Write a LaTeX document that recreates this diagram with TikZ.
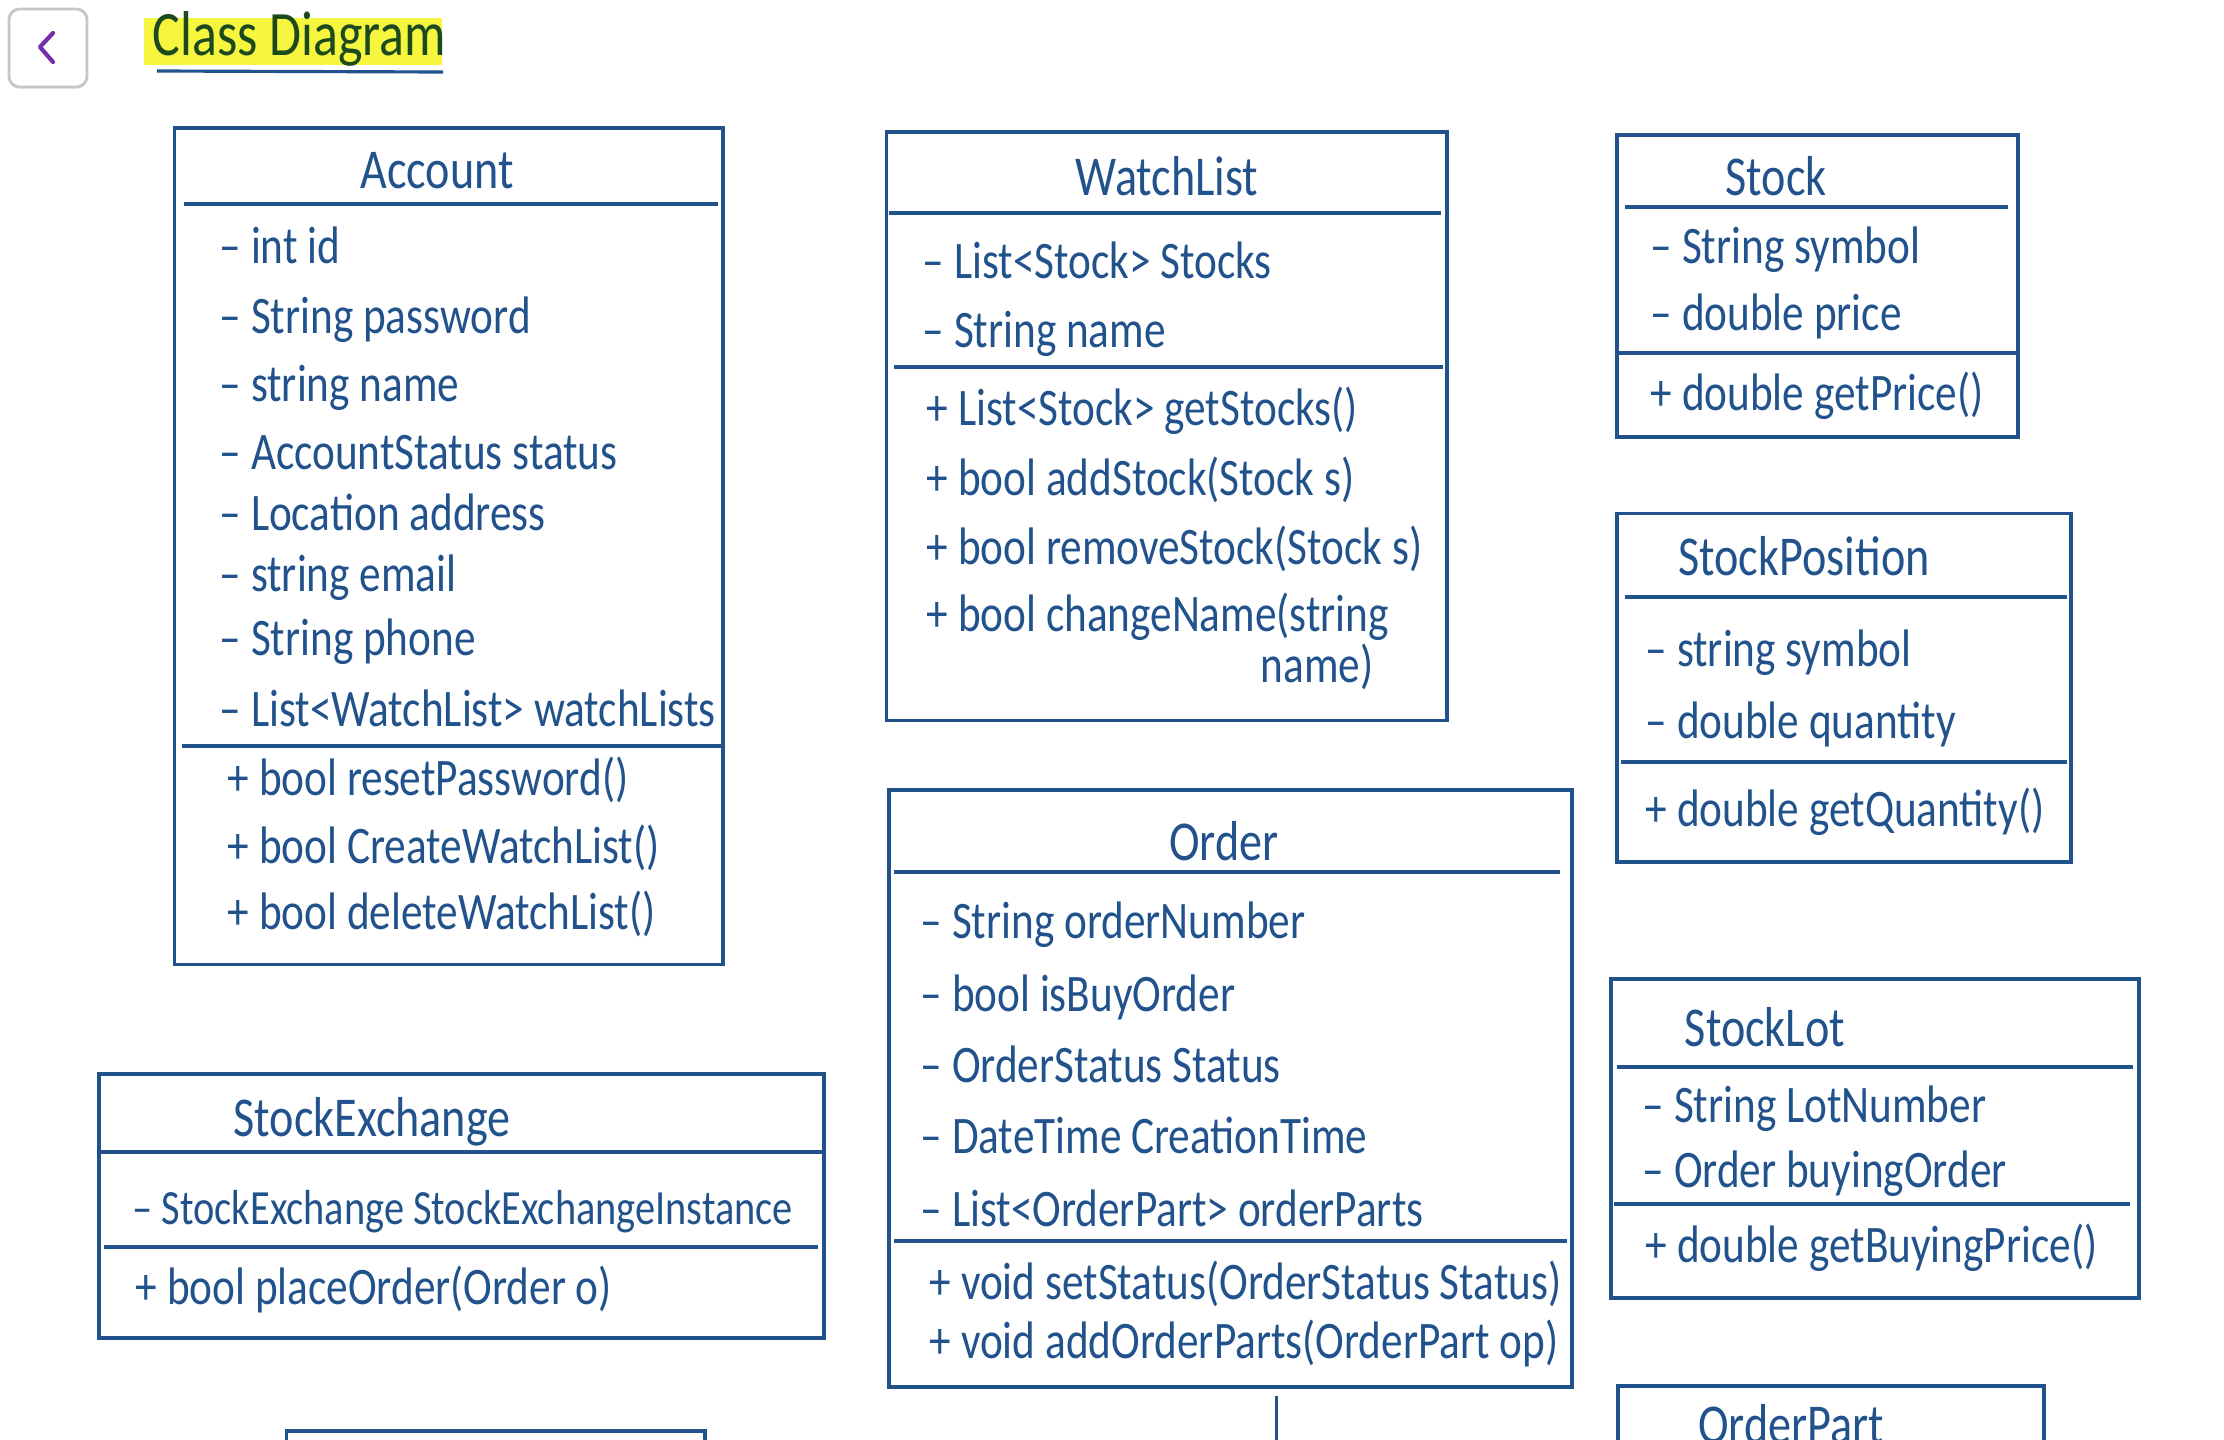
\documentclass[tikz,border=0pt]{standalone}
\usepackage{fontspec}
\setmainfont{Carlito}
\newfontfamily\handfont{Carlito}[FakeStretch=0.82]
\usetikzlibrary{fit,positioning,shadows}
\definecolor{inkblue}{RGB}{33,82,140}
\definecolor{titlegreen}{RGB}{28,74,30}
\definecolor{marker}{RGB}{246,246,62}
\definecolor{backpurple}{RGB}{118,46,170}

\begin{document}
\begin{tikzpicture}[x=0.01cm, y=-0.01cm,
                    classbox/.style={rectangle, draw=inkblue, line width=1.1pt, inner sep=0pt},
                    rule/.style={draw=inkblue, line width=1.1pt},
                    classname/.style={anchor=mid, text=inkblue, inner sep=0pt, yshift=-2.8pt,
                                      font=\handfont\fontsize{16}{18}\selectfont},
                    member/.style={anchor=mid west, text=inkblue, inner sep=0pt, yshift=-2.8pt,
                                   font=\handfont\fontsize{15}{17}\selectfont},
                    link/.style={draw=inkblue, line width=0.9pt},
                    backbtn/.style={rectangle, rounded corners=3pt, draw=gray!45, line width=0.8pt,
                                    fill=white, inner sep=0pt,
                                    drop shadow={opacity=0.12, shadow xshift=0pt, shadow yshift=-0.6pt}},
                    ]
\useasboundingbox (0,0) rectangle (2224,1439);
\clip (0,0) rectangle (2224,1439);

%% back button and title
\node[backbtn, fit={(9,9) (87,87)}] (back) {};
\draw[backpurple, line width=1.2pt, line cap=round, line join=round] (53,33) -- (40,47) -- (53,62);
\node[fill=marker, inner sep=0pt, fit={(144,18) (442,65)}] (mark) {};
\node[anchor=mid west, text=titlegreen, inner sep=0pt,
      font=\handfont\fontsize{18}{20}\selectfont] (title) at (152,47) {Class Diagram};
\draw[inkblue, line width=0.9pt] (157,71) -- (443,72);

%% Account
\node[classbox, fit={(174.5,127.7) (723.4,964.5)}] (account) {};
\node[classname] (account-name) at (437,170) {Account};
\draw[rule] (184,204) -- (718,204);
\draw[rule] (182,746) -- (723,746);
\foreach \y/\txt [count=\i] in {245/{– int id}, 315/{– String password}, 383/{– string name},
                                451/{– AccountStatus status}, 512/{– Location address},
                                573/{– string email}, 637/{– String phone},
                                708/{– List<WatchList> watchLists}}
  \node[member] (account-a\i) at (219,\y) {\txt};
\foreach \y/\txt [count=\i] in {777/{+ bool resetPassword()}, 845/{+ bool CreateWatchList()},
                                911/{+ bool deleteWatchList()}}
  \node[member] (account-m\i) at (227,\y) {\txt};

%% WatchList
\node[classbox, fit={(886.5,131.9) (1446.8,720.5)}] (watchlist) {};
\node[classname] (watchlist-name) at (1167,177) {WatchList};
\draw[rule] (889,213) -- (1441,213);
\draw[rule] (894,367) -- (1443,367);
\foreach \y/\txt [count=\i] in {260/{– List<Stock> Stocks}, 329/{– String name}}
  \node[member] (watchlist-a\i) at (922,\y) {\txt};
\foreach \y/\txt [count=\i] in {407/{+ List<Stock> getStocks()}, 477/{+ bool addStock(Stock s)},
                                546/{+ bool removeStock(Stock s)}, 613/{+ bool changeName(string}}
  \node[member] (watchlist-m\i) at (926,\y) {\txt};
\node[member] (watchlist-m5) at (1260,664) {name)};

%% Stock
\node[classbox, fit={(1617,134.7) (2018.4,436.9)}] (stock) {};
\node[classname] (stock-name) at (1776,177) {Stock};
\draw[rule] (1625,207) -- (2008,207);
\draw[rule] (1617,353) -- (2018,353);
\node[member] (stock-a1) at (1650,245) {– String symbol};
\node[member] (stock-a2) at (1650,312) {– double price};
\node[member] (stock-m1) at (1650,392) {+ double getPrice()};

%% StockPosition
\node[classbox, fit={(1617,513.5) (2071,862.4)}] (stockposition) {};
\node[classname] (stockposition-name) at (1804,557) {StockPosition};
\draw[rule] (1625,597) -- (2067,597);
\draw[rule] (1621,762) -- (2067,762);
\node[member] (stockposition-a1) at (1645,648) {– string symbol};
\node[member] (stockposition-a2) at (1645,720) {– double quantity};
\node[member] (stockposition-m1) at (1645,808) {+ double getQuantity()};

%% Order
\node[classbox, fit={(889.3,790) (1571.6,1387.2)}] (order) {};
\node[classname] (order-name) at (1224,842) {Order};
\draw[rule] (894,872) -- (1560,872);
\draw[rule] (894,1241) -- (1567,1241);
\foreach \y/\txt [count=\i] in {920/{– String orderNumber}, 993/{– bool isBuyOrder},
                                1064/{– OrderStatus Status}, 1135/{– DateTime CreationTime},
                                1208/{– List<OrderPart> orderParts}}
  \node[member] (order-a\i) at (920,\y) {\txt};
\foreach \y/\txt [count=\i] in {1281/{+ void setStatus(OrderStatus Status)},
                                1340/{+ void addOrderParts(OrderPart op)}}
  \node[member] (order-m\i) at (929,\y) {\txt};

%% StockExchange
\node[classbox, fit={(99.3,1073.7) (824,1337.6)}] (stockexchange) {};
\node[classname] (stockexchange-name) at (372,1118) {StockExchange};
\draw[rule] (99,1152) -- (824,1152);
\draw[rule] (104,1247) -- (818,1247);
\node[member, font=\handfont\fontsize{14}{16}\selectfont] (stockexchange-a1) at (132,1206)
  {– StockExchange StockExchangeInstance};
\node[member] (stockexchange-m1) at (135,1286) {+ bool placeOrder(Order o)};

%% StockLot
\node[classbox, fit={(1611.3,978.7) (2139,1297.8)}] (stocklot) {};
\node[classname] (stocklot-name) at (1765,1028) {StockLot};
\draw[rule] (1617,1067) -- (2133,1067);
\draw[rule] (1614,1204) -- (2130,1204);
\node[member] (stocklot-a1) at (1642,1104) {– String LotNumber};
\node[member] (stocklot-a2) at (1642,1169) {– Order buyingOrder};
\node[member] (stocklot-m1) at (1645,1244) {+ double getBuyingPrice()};

%% boxes cut by the lower edge
\node[classbox, fit={(286.5,1431) (705,1520)}] (lowerbox) {};
\node[classbox, fit={(1618.4,1385.8) (2044,1520)}] (orderpart) {};
\node[classname] (orderpart-name) at (1791,1425) {OrderPart};

\coordinate (order-end) at (1276.6,1450);
\draw[link, shorten <=2pt] (order.south -| order-end) -- (order-end);
\end{tikzpicture}
\end{document}
